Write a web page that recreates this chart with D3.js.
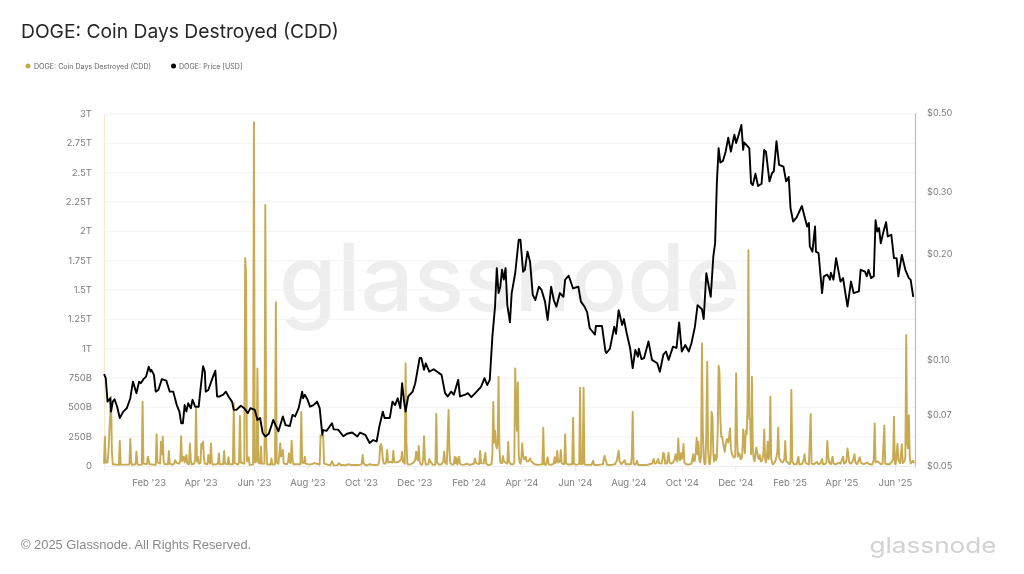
<!DOCTYPE html>
<html>
<head>
<meta charset="utf-8">
<script src="https://cdn.jsdelivr.net/npm/d3@7"></script>
<style>
	html, body { margin: 0; padding: 0; background: #fff; }
	svg { display: block; filter: blur(0.35px); }
	.tick-label text { font-family: Inter, sans-serif; font-size: 9.5px; fill: #7d7d7d; }
	.price-axis text { font-size: 9.2px; }
</style>
</head>
<body>
<div id="chart"></div>
<script>
// values
var title_text = 'DOGE: Coin Days Destroyed (CDD)';
var legend_labels = ['DOGE: Coin Days Destroyed (CDD)', 'DOGE: Price [USD]'];
var footer_text = '\u00a9 2025 Glassnode. All Rights Reserved.';
var brand_text = 'glassnode';

var start_date = '2022-12-12';
var end_day = 925;

var x_ticks = ['2023-02-01', '2023-04-01', '2023-06-01', '2023-08-01', '2023-10-01', '2023-12-01', '2024-02-01',
	'2024-04-01', '2024-06-01', '2024-08-01', '2024-10-01', '2024-12-01', '2025-02-01', '2025-04-01', '2025-06-01'];
var cdd_ticks = [0, 250, 500, 750, 1000, 1250, 1500, 1750, 2000, 2250, 2500, 2750, 3000]; // billions
var price_ticks = [0.05, 0.07, 0.10, 0.20, 0.30, 0.50];

// days since start_date
var cdd_days = [
	0, 1, 2, 4, 5, 8, 9, 10, 17, 18, 19, 29, 30, 31, 32, 36, 37, 38, 39, 43, 44, 45, 49, 50, 52, 59, 60, 61,
	64, 65, 66, 67, 68, 69, 73, 74, 75, 78, 80, 81, 83, 86, 87, 88, 89, 90, 91, 92, 94, 95, 97, 98, 99, 100,
	103, 104, 105, 106, 107, 108, 110, 111, 112, 113, 114, 115, 118, 119, 120, 121, 122, 123, 124, 128, 130, 131, 132,
	136, 137, 138, 141, 142, 143, 147, 148, 149, 153, 154, 155, 156, 160, 161, 162, 163, 165, 166, 170, 171, 172,
	174, 175, 176, 178, 179, 180, 183, 184, 185, 186, 190, 191, 192, 195, 196, 197, 199, 201, 202, 204, 205,
	209, 210, 211, 212, 213, 214, 215, 216, 224, 225, 226, 228, 229, 230, 235, 240, 245, 246, 247, 248, 249, 250, 251,
	258, 260, 262, 266, 268, 270, 272, 275, 279, 282, 290, 294, 295, 296, 298, 300, 303, 306, 310,
	313, 314, 315, 316, 317, 318, 319, 321, 322, 323, 324, 327, 329, 330, 331, 334, 337, 339, 340, 341, 343,
	344, 345, 346, 347, 350, 353, 355, 356, 357, 358, 359, 360, 361, 363, 364, 365, 366, 367, 370, 371, 373, 375,
	378, 379, 380, 382, 385, 387, 388, 389, 391, 393, 394, 395, 397, 399, 400, 401, 402, 403, 405, 406, 408,
	411, 414, 417, 420, 422, 423, 424, 427, 428, 429, 430, 433, 435, 436, 438, 442, 443, 444, 445, 446, 447,
	448, 449, 450, 451, 452, 454, 455, 456, 458, 460, 461, 462, 464, 467, 468, 469, 470, 471, 472, 473, 474,
	475, 476, 477, 478, 479, 480, 481, 482, 484, 486, 487, 489, 491, 495, 497, 500, 501, 502, 504, 506, 507,
	510, 513, 514, 515, 516, 517, 518, 520, 521, 522, 524, 525, 526, 527, 530, 532, 534, 535, 536, 538, 540,
	542, 543, 544, 546, 547, 548, 550, 553, 556, 558, 559, 562, 566, 569, 570, 571, 572, 574, 578, 580,
	583, 585, 586, 587, 588, 590, 594, 595, 601, 602, 603, 604, 606, 608, 609,
	612, 615, 618, 622, 625, 627, 628, 630, 632, 633, 636, 637, 638, 639, 640, 642, 644, 645, 647, 649,
	651, 652, 653, 654, 655, 656, 657, 658, 659, 660, 661, 662, 664, 667, 670, 671, 672, 673, 674, 675, 676, 677, 678,
	679, 680, 681, 682, 683, 684, 685, 686, 687, 688, 689, 690, 691, 692, 693, 694, 695, 696, 697, 698, 699,
	700, 701, 702, 703, 704, 705, 706, 707, 708, 709, 710, 711, 712, 713, 714, 715, 716, 717, 718, 719,
	720, 721, 722, 723, 724, 725, 726, 727, 728, 729, 730, 731, 732, 733, 734, 735, 736, 737, 738, 739,
	740, 741, 742, 743, 744, 745, 746, 747, 748, 749, 750, 751, 752, 753, 754, 755, 756, 757, 758, 759,
	760, 761, 762, 763, 764, 765, 766, 767, 768, 769, 770, 772, 774, 776, 777, 778, 780, 782, 783, 784, 785, 787,
	790, 792, 793, 796, 798, 799, 800, 802, 804, 806, 807, 810, 813, 815, 817, 819, 820, 822, 824, 825, 826, 827, 829,
	831, 832, 835, 838, 840, 843, 844, 846, 847, 848, 849, 850, 852, 854, 856, 857, 859, 862, 863, 866, 868, 870,
	873, 876, 878, 879, 880, 882, 884, 886, 888, 890, 891, 893, 896, 898, 900, 901, 902, 903, 905, 906, 908,
	910, 911, 913, 914, 915, 916, 917, 918, 919, 920, 921, 923, 924
];
// billions of coin days, same order as cdd_days
var cdd_values = [
	20, 250, 30, 30, 110, 590, 120, 15, 10, 213, 12, 12, 230, 30, 10, 15, 122, 25, 10, 12, 548, 20, 15, 80, 15, 10, 270, 30,
	20, 207, 100, 250, 40, 15, 15, 128, 20, 10, 20, 50, 25, 20, 50, 255, 40, 60, 80, 30, 95, 20, 15, 193, 50, 12,
	20, 60, 491, 40, 80, 20, 25, 190, 150, 207, 60, 20, 15, 95, 40, 20, 193, 30, 12, 15, 20, 108, 15,
	15, 128, 20, 15, 75, 15, 15, 534, 25, 12, 30, 426, 30, 20, 1772, 1650, 40, 75, 10, 12, 2930, 30,
	40, 832, 30, 20, 165, 20, 20, 2224, 200, 15, 12, 65, 12, 15, 1397, 30, 20, 193, 80, 136, 20,
	15, 40, 108, 30, 25, 216, 60, 15, 15, 460, 30, 25, 80, 20, 12, 25, 15, 10, 260, 260, 250, 260, 20,
	5, 40, 5, 6, 25, 8, 10, 6, 15, 8, 8, 15, 94, 25, 8, 6, 15, 10, 8,
	12, 50, 170, 187, 150, 60, 20, 20, 50, 136, 30, 35, 30, 130, 35, 30, 40, 60, 122, 40, 20,
	875, 200, 20, 12, 15, 30, 50, 122, 60, 50, 170, 40, 15, 12, 60, 255, 60, 12, 15, 60, 30, 10,
	12, 446, 30, 12, 15, 40, 122, 30, 15, 477, 120, 25, 12, 15, 80, 25, 70, 12, 80, 20, 10,
	12, 20, 10, 15, 20, 65, 30, 15, 20, 128, 25, 20, 112, 20, 8, 15, 100, 545, 200, 300, 180,
	150, 200, 761, 150, 30, 25, 85, 40, 30, 20, 204, 40, 15, 15, 40, 832, 500, 300, 713, 100, 30,
	20, 60, 193, 90, 60, 60, 80, 40, 40, 65, 40, 30, 15, 10, 12, 15, 327, 15, 10, 75, 15,
	10, 20, 75, 25, 40, 128, 30, 40, 136, 25, 15, 20, 270, 20, 12, 15, 15, 412, 20, 10, 12,
	20, 667, 15, 20, 667, 15, 10, 12, 10, 45, 10, 8, 12, 15, 60, 88, 50, 10, 8, 12,
	15, 50, 90, 130, 40, 15, 50, 15, 15, 80, 463, 20, 10, 45, 10,
	8, 10, 8, 15, 20, 60, 20, 25, 60, 25, 20, 60, 113, 100, 20, 20, 113, 30, 20, 30,
	60, 100, 50, 40, 235, 70, 50, 110, 60, 100, 187, 30, 15, 12, 20, 60, 100, 40, 50, 120, 241, 100, 205,
	50, 30, 80, 1045, 300, 80, 15, 20, 300, 889, 150, 30, 15, 100, 463, 420, 100, 40, 95, 50, 70,
	300, 855, 800, 400, 250, 250, 200, 160, 120, 180, 220, 230, 200, 250, 320, 150, 110, 90, 80, 70,
	90, 790, 250, 80, 110, 100, 60, 60, 100, 312, 200, 110, 300, 270, 500, 1840, 400, 395, 100, 761,
	150, 60, 40, 100, 156, 120, 70, 60, 95, 40, 40, 60, 100, 312, 60, 30, 80, 207, 60, 100,
	590, 60, 30, 15, 20, 30, 50, 80, 120, 327, 70, 40, 30, 60, 213, 40, 30, 15, 30, 648, 40, 15,
	15, 80, 15, 15, 50, 100, 30, 20, 12, 443, 20, 15, 35, 15, 20, 60, 15, 15, 30, 213, 80, 30, 15,
	80, 20, 15, 30, 20, 80, 20, 30, 60, 150, 90, 30, 20, 40, 100, 30, 15, 75, 30, 15, 20, 30,
	15, 12, 50, 363, 30, 40, 30, 15, 20, 346, 20, 15, 15, 30, 60, 420, 20, 15, 190, 50, 25,
	185, 25, 40, 80, 1116, 200, 150, 434, 80, 20, 30, 45, 25
];

var price_days = [
	0, 2, 4, 7, 8, 10, 12, 15, 18, 22, 26, 30, 33, 37, 40, 42, 45, 48, 51, 53, 54, 57, 59, 62, 66, 71, 75, 79, 83, 86, 88, 90, 92, 94, 96, 99,
	101, 104, 108, 110, 113, 115, 116, 119, 123, 127, 129, 132, 136, 139, 142, 146, 148, 151, 156, 160, 164, 167, 172, 175, 178, 181, 184, 188, 193, 199,
	204, 207, 212, 215, 218, 222, 226, 227, 229, 232, 235, 239, 243, 246, 249, 250, 254, 260, 262, 267, 273, 277, 283, 289, 292,
	298, 303, 307, 311, 314, 318, 320, 326, 329, 332, 335, 338, 340, 342, 344, 347, 352, 355, 358, 360, 362, 365, 367, 371, 376, 380, 385, 389, 392, 396, 399,
	404, 406, 412, 415, 419, 425, 430, 434, 437, 440, 443, 446, 448, 450, 452, 454, 456, 458, 460, 463, 465, 469, 473, 475, 478, 480, 483, 486, 489, 492, 496, 499,
	503, 506, 510, 513, 516, 520, 524, 526, 530, 535, 541, 544, 548, 551, 554, 560, 561, 568, 572, 573, 577, 582, 584, 587, 591, 593, 596, 600, 603, 606, 609, 610, 613, 616,
	621, 625, 631, 634, 638, 641, 644, 649, 653, 656, 659, 663, 667, 670, 674, 677, 682, 684, 687, 692, 695, 697, 699, 701, 703, 706, 709, 712, 715, 719, 721, 724, 727, 729,
	730, 736, 738, 740, 743, 746, 750, 753, 755, 759, 762, 764, 767, 770, 775, 778, 781, 783, 786, 790, 796, 799, 802, 804, 805, 808, 811, 812, 815, 819, 821, 825,
	828, 829, 832, 835, 840, 843, 845, 848, 852, 855, 861, 863, 868, 870, 872, 875, 878, 880, 882, 884, 886, 889, 892, 894, 898, 901, 904, 906, 910, 914, 918, 920, 923
];
// usd, same order as price_days
var price_values = [
	0.0910, 0.0887, 0.0761, 0.0778, 0.0713, 0.0761, 0.0773, 0.0736, 0.0684, 0.0713, 0.0729, 0.0778, 0.0867, 0.0804, 0.0867, 0.0858, 0.0881, 0.0896, 0.0955, 0.0925, 0.0936, 0.0906, 0.0812, 0.0821, 0.0881, 0.0873, 0.0812, 0.0812, 0.0744, 0.0713, 0.0661, 0.0661, 0.0744, 0.0713, 0.0753, 0.0729,
	0.0770, 0.0736, 0.0736, 0.0821, 0.0959, 0.0925, 0.0812, 0.0821, 0.0877, 0.0931, 0.0787, 0.0787, 0.0796, 0.0812, 0.0787, 0.0761, 0.0721, 0.0721, 0.0741, 0.0729, 0.0706, 0.0729, 0.0721, 0.0675, 0.0684, 0.0620, 0.0606, 0.0617, 0.0675, 0.0627,
	0.0691, 0.0653, 0.0649, 0.0698, 0.0691, 0.0729, 0.0812, 0.0778, 0.0796, 0.0772, 0.0736, 0.0744, 0.0761, 0.0729, 0.0613, 0.0632, 0.0629, 0.0661, 0.0635, 0.0634, 0.0607, 0.0617, 0.0622, 0.0606, 0.0622,
	0.0613, 0.0581, 0.0592, 0.0587, 0.0646, 0.0713, 0.0684, 0.0684, 0.0761, 0.0744, 0.0778, 0.0729, 0.0858, 0.0770, 0.0713, 0.0787, 0.0812, 0.0858, 0.0946, 0.1011, 0.1011, 0.0936, 0.0977, 0.0925, 0.0940, 0.0925, 0.0906, 0.0804, 0.0787, 0.0812, 0.0796,
	0.0877, 0.0787, 0.0796, 0.0804, 0.0784, 0.0812, 0.0838, 0.0887, 0.0848, 0.0877, 0.1165, 0.1414, 0.1816, 0.1545, 0.1611, 0.1798, 0.1686, 0.1816, 0.1428, 0.1276, 0.1545, 0.1758, 0.2187, 0.2187, 0.1776, 0.1798, 0.2024, 0.1891, 0.1527, 0.1476, 0.1611, 0.1578,
	0.1461, 0.1296, 0.1611, 0.1476, 0.1414, 0.1545, 0.1507, 0.1686, 0.1730, 0.1592, 0.1611, 0.1461, 0.1414, 0.1366, 0.1228, 0.1178, 0.1246, 0.1246, 0.1055, 0.1045, 0.1074, 0.1241, 0.1184, 0.1381, 0.1255, 0.1304, 0.1194, 0.1080, 0.0946, 0.1066, 0.1020, 0.1074, 0.1004, 0.1011,
	0.1127, 0.0999, 0.0977, 0.0925, 0.1034, 0.1055, 0.0999, 0.1089, 0.1080, 0.1276, 0.1055, 0.1101, 0.1055, 0.1114, 0.1241, 0.1428, 0.1390, 0.1304, 0.1758, 0.1507, 0.1961, 0.2136, 0.3165, 0.3977, 0.3620, 0.3660, 0.3885, 0.4254, 0.3885, 0.4343, 0.4110, 0.4343, 0.4626, 0.3930,
	0.4128, 0.3977, 0.3165, 0.3124, 0.3365, 0.3106, 0.3152, 0.3930, 0.3885, 0.3200, 0.3380, 0.3420, 0.4160, 0.3565, 0.3522, 0.3200, 0.3295, 0.2690, 0.2463, 0.2530, 0.2726, 0.2546, 0.2385, 0.2440, 0.2095, 0.2024, 0.2385, 0.2024, 0.2005, 0.1545, 0.1723, 0.1742,
	0.1686, 0.1764, 0.1686, 0.1940, 0.1665, 0.1703, 0.1578, 0.1414, 0.1665, 0.1545, 0.1561, 0.1798, 0.1776, 0.1723, 0.1798, 0.1703, 0.1723, 0.2485, 0.2306, 0.2360, 0.2136, 0.2306, 0.2453, 0.2235, 0.2260, 0.1940, 0.1940, 0.1723, 0.1980, 0.1798, 0.1703, 0.1686, 0.1507
];

var gold = '#c8aa52';
var width = 1024, height = 574;
var plot = {left: 104, right: 915, top: 114, bottom: 466};

var parse_date = d3.utcParse('%Y-%m-%d');
var day_zero = parse_date(start_date);
function day_to_date(d){ return d3.utcDay.offset(day_zero, d); }

var x = d3.scaleUtc()
	.domain([day_zero, day_to_date(end_day)])
	.range([plot.left, plot.right]);
var y_cdd = d3.scaleLinear()
	.domain([0, 3000])
	.range([plot.bottom, plot.top]);
var y_price = d3.scaleLog()
	.domain([0.05, 0.5])
	.range([plot.bottom, plot.top - 1]);

var svg = d3.select('#chart').append('svg')
	.attr('width', width)
	.attr('height', height);

svg.append('text')
	.attr('x', 21).attr('y', 38)
	.attr('font-family', 'Inter, sans-serif')
	.attr('font-size', 19.25)
	.attr('fill', '#262626')
	.text(title_text);

// legend
var legend_items = [
	{label: legend_labels[0], color: gold, dot: 28, text: 34},
	{label: legend_labels[1], color: '#000', dot: 173.5, text: 179}
];
legend_items.forEach(function(item){
	svg.append('circle').attr('cx', item.dot).attr('cy', 66).attr('r', 2.5).attr('fill', item.color);
	svg.append('text')
		.attr('x', item.text).attr('y', 69)
		.attr('font-family', 'Inter, sans-serif')
		.attr('font-size', 7.1)
		.attr('fill', '#666')
		.text(item.label);
});

// watermark goes behind everything
svg.append('text')
	.attr('x', 279).attr('y', 311)
	.attr('font-family', 'Inter, sans-serif')
	.attr('font-size', 93)
	.attr('font-weight', 500)
	.attr('textLength', 461)
	.attr('lengthAdjust', 'spacingAndGlyphs')
	.attr('fill', '#eeeeee')
	.text(brand_text);

// grid
svg.append('g').selectAll('line')
	.data(cdd_ticks.slice(1))
	.enter().append('line')
	.attr('x1', plot.left).attr('x2', plot.right)
	.attr('y1', function(d){ return y_cdd(d); })
	.attr('y2', function(d){ return y_cdd(d); })
	.attr('stroke', '#f3f3f3');

// axes
var x_axis = d3.axisBottom(x)
	.tickValues(x_ticks.map(parse_date))
	.tickFormat(d3.utcFormat("%b '%y"))
	.tickSize(5)
	.tickPadding(8);
var x_g = svg.append('g')
	.attr('class', 'tick-label')
	.attr('transform', 'translate(0,' + plot.bottom + ')')
	.call(x_axis);
x_g.select('.domain').attr('stroke', '#efefef');
x_g.selectAll('.tick line').attr('stroke', '#e8e8e8');

var y_left = d3.axisLeft(y_cdd)
	.tickValues(cdd_ticks)
	.tickSize(0)
	.tickPadding(12)
	.tickFormat(function(d){
		if (d == 0) return '0';
		return d < 1000 ? d + 'B' : (d / 1000) + 'T';
	});
var left_g = svg.append('g')
	.attr('class', 'tick-label')
	.attr('transform', 'translate(' + plot.left + ',-0.6)')
	.call(y_left);
left_g.select('.domain').attr('stroke', '#f3ead0').attr('stroke-width', 1.2);

var y_right = d3.axisRight(y_price)
	.tickValues(price_ticks)
	.tickSize(0)
	.tickPadding(12)
	.tickFormat(d3.format('$.2f'));
var right_g = svg.append('g')
	.attr('class', 'tick-label price-axis')
	.attr('transform', 'translate(' + plot.right + ',0)')
	.call(y_right);
right_g.select('.domain').attr('stroke', '#bdbdbd').attr('stroke-width', 1.2);

// series
var cdd_line = d3.line()
	.x(function(d, i){ return x(day_to_date(cdd_days[i])); })
	.y(function(d){ return y_cdd(d); });
svg.append('path')
	.attr('d', cdd_line(cdd_values))
	.attr('fill', 'none')
	.attr('stroke', gold)
	.attr('stroke-width', 1.9)
	.attr('stroke-linejoin', 'round');

var price_line = d3.line()
	.x(function(d, i){ return x(day_to_date(price_days[i])); })
	.y(function(d){ return y_price(d); });
svg.append('path')
	.attr('d', price_line(price_values))
	.attr('fill', 'none')
	.attr('stroke', '#000')
	.attr('stroke-width', 1.9)
	.attr('stroke-linejoin', 'round');

// footer
svg.append('text')
	.attr('x', 21).attr('y', 549)
	.attr('font-family', '"Liberation Sans", sans-serif')
	.attr('font-size', 12.9)
	.attr('fill', '#8a8a8a')
	.text(footer_text);
svg.append('text')
	.attr('x', 869.5).attr('y', 553)
	.attr('font-family', 'Inter, sans-serif')
	.attr('font-size', 22)
	.attr('textLength', 127)
	.attr('lengthAdjust', 'spacingAndGlyphs')
	.attr('fill', '#d2d2d2')
	.text(brand_text);
</script>
</body>
</html>
